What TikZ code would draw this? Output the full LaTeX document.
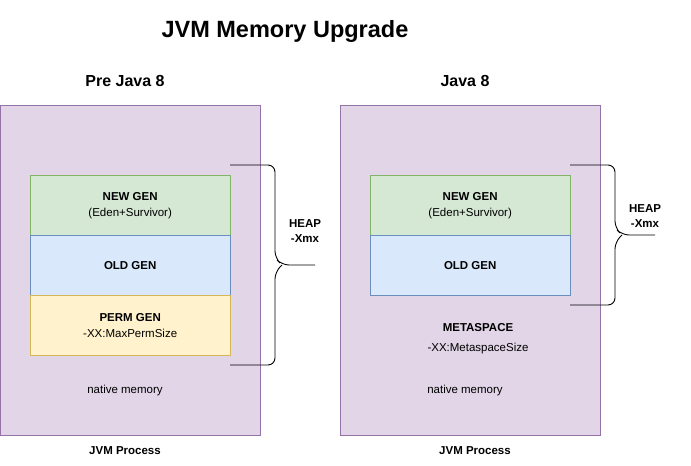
\documentclass[tikz,border=0pt]{standalone}
\usepackage{fontspec}
\setmainfont{Liberation Sans}
\usetikzlibrary{positioning}
\definecolor{procfill}{HTML}{E1D5E7}
\definecolor{procline}{HTML}{9673A6}
\definecolor{newfill}{HTML}{D5E8D4}
\definecolor{newline}{HTML}{82B366}
\definecolor{oldfill}{HTML}{DAE8FC}
\definecolor{oldline}{HTML}{6C8EBF}
\definecolor{permfill}{HTML}{FFF2CC}
\definecolor{permline}{HTML}{D6B656}
\tikzset{
    proc/.style={draw=procline, fill=procfill, anchor=north west, minimum width=260, minimum height=330, inner sep=0},
    gen/.style={anchor=north west, minimum width=200, minimum height=60, inner sep=0, align=center, font=\fontsize{11.5}{16}\selectfont},
    txt/.style={font=\fontsize{11.5}{16}\selectfont, align=center},
    bold/.style={font=\fontsize{11.5}{15}\selectfont\bfseries, align=center},
    brace/.style={rounded corners=7, line width=0.9}
}
\begin{document}
\begin{tikzpicture}[x=1pt, y=-1pt]
\useasboundingbox (0,0) rectangle (691,466);
\node[font=\fontsize{23.5}{26}\selectfont\bfseries] (title) at (285,31) {JVM Memory Upgrade};

%pre java 8
\node[font=\fontsize{16}{18}\selectfont\bfseries] (preJ) at (125,81) {Pre Java 8};
\node[proc] (preP) at (0,105) {};
\node[gen, draw=newline, fill=newfill] (preNew) at (30,175) {\textbf{NEW GEN}\\(Eden+Survivor)};
\node[gen, draw=oldline, fill=oldfill] (preOld) at (30,235) {\textbf{OLD GEN}};
\node[gen, draw=permline, fill=permfill] (prePerm) at (30,295) {\textbf{PERM GEN}\\-XX:MaxPermSize};
\node[txt] (preNat) at (125,391) {native memory};
\node[bold] (preLbl) at (125,451) {JVM Process};
\coordinate (preTop) at (230,165);
\coordinate (preBot) at (230,365);
\coordinate (preTip) at (315,265);
\draw[brace] (preTop) -- (275,165) -- (275,258) -- (282,265) -- (preTip);
\draw[brace] (preBot) -- (275,365) -- (275,272) -- (282,265);
\node[bold] (preHeap) at (305,231) {HEAP\\-Xmx};

%java 8
\node[font=\fontsize{16}{18}\selectfont\bfseries] (j8) at (465,81) {Java 8};
\node[proc] (j8P) at (340,105) {};
\node[gen, draw=newline, fill=newfill] (j8New) at (370,175) {\textbf{NEW GEN}\\(Eden+Survivor)};
\node[gen, draw=oldline, fill=oldfill] (j8Old) at (370,235) {\textbf{OLD GEN}};
\node[txt] (j8Meta) at (478,339) {\textbf{METASPACE}\\[4pt]-XX:MetaspaceSize};
\node[txt] (j8Nat) at (465,391) {native memory};
\node[bold] (j8Lbl) at (475,451) {JVM Process};
\coordinate (j8Top) at (570,165);
\coordinate (j8Bot) at (570,305);
\coordinate (j8Tip) at (655,235);
\draw[brace] (j8Top) -- (615,165) -- (615,228) -- (622,235) -- (j8Tip);
\draw[brace] (j8Bot) -- (615,305) -- (615,242) -- (622,235);
\node[bold] (j8Heap) at (645,216) {HEAP\\-Xmx};
\end{tikzpicture}
\end{document}
